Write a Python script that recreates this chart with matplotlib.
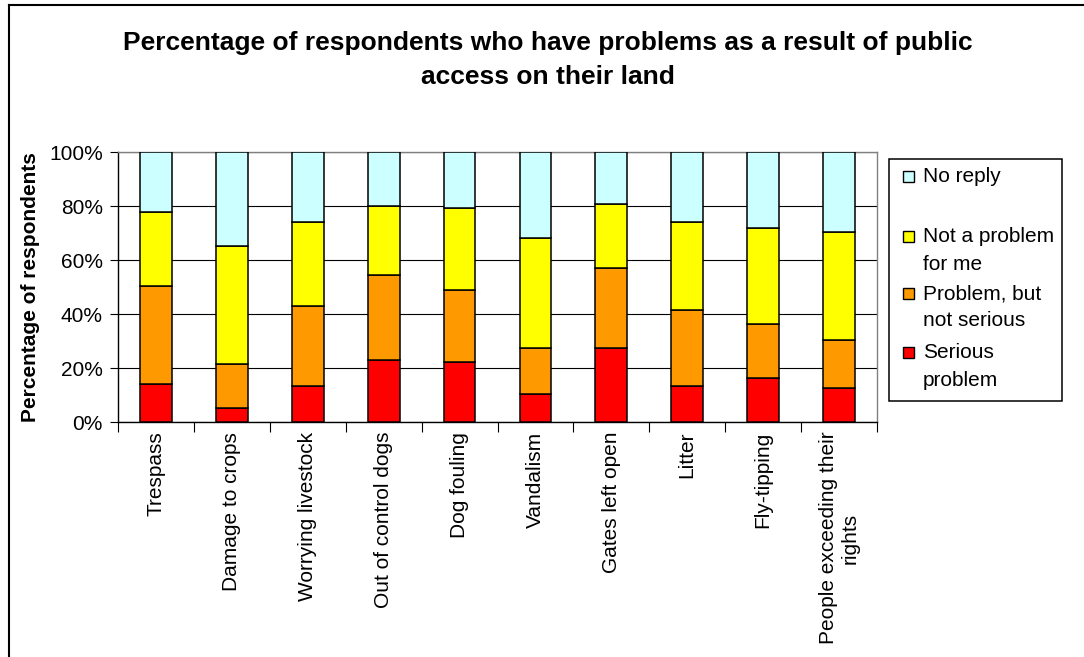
import matplotlib
matplotlib.use("Agg")
import matplotlib.pyplot as plt
from matplotlib.patches import Rectangle
from matplotlib.lines import Line2D
import numpy as np

plt.rcParams['font.family'] = ['Liberation Sans', 'DejaVu Sans']

categories = ['Trespass', 'Damage to crops', 'Worrying livestock', 'Out of control dogs',
              'Dog fouling', 'Vandalism', 'Gates left open', 'Litter', 'Fly-tipping',
              'People exceeding their\nrights']
serious = [14.1, 5.2, 13.3, 23.1, 22.1, 10.4, 27.4, 13.2, 16.3, 12.6]
not_serious = [36.4, 16.3, 29.5, 31.2, 26.9, 17.0, 29.6, 28.2, 20.0, 17.8]
not_problem = [27.3, 43.7, 31.3, 25.6, 30.3, 40.7, 23.7, 32.7, 35.6, 40.0]
no_reply = [22.2, 34.8, 25.9, 20.1, 20.7, 31.9, 19.3, 25.9, 28.1, 29.6]

series = [serious, not_serious, not_problem, no_reply]
labels = ['Serious\nproblem', 'Problem, but\nnot serious', 'Not a problem\nfor me', 'No reply']
colors = ['#FF0000', '#FF9900', '#FFFF00', '#CCFFFF']

W, H = 1084, 657
fig = plt.figure(figsize=(W / 100, H / 100), dpi=100)
ax = fig.add_axes([118 / W, 1 - 422 / H, 759 / W, 270 / H])

x = np.arange(len(categories))
bottom = np.zeros(len(categories))
for vals, col in zip(series, colors):
    ax.bar(x, vals, 0.42, bottom=bottom, color=col, edgecolor='black', linewidth=1.1, zorder=3)
    bottom += np.array(vals)

ax.set_xlim(-0.5, len(categories) - 0.5)
ax.set_ylim(0, 100)
ax.set_yticks(range(0, 101, 20))
ax.set_yticklabels([f'{v}%' for v in range(0, 101, 20)], fontsize=15)
ax.yaxis.grid(True, color='black', linewidth=0.8, zorder=0)
ax.tick_params(axis='y', length=6, width=0.8, direction='out', pad=5)

ax.set_xticks(x)
ax.set_xticklabels(categories, rotation=90, fontsize=15, ha='center', va='top', multialignment='center')
ax.tick_params(axis='x', which='major', length=0, pad=7)
ax.set_xticks(np.arange(-0.5, len(categories)), minor=True)
ax.tick_params(axis='x', which='minor', length=7, width=0.8, direction='out')

for s in ['top', 'right']:
    ax.spines[s].set_color('#808080')
for s in ['left', 'bottom']:
    ax.spines[s].set_color('black')
for s in ax.spines.values():
    s.set_linewidth(1.0)

ax.set_ylabel('Percentage of respondents', fontsize=15, fontweight='bold')
ax.yaxis.set_label_coords(-(118 - 40) / 759, 0.5)

fig.text(548 / W, 1 - 60 / H, 'Percentage of respondents who have problems as a result of public\naccess on their land',
         ha='center', va='center', fontsize=19, fontweight='bold', linespacing=1.5)

# legend box drawn by hand to follow the original spacing
def fx(px):
    return px / W

def fy(py):
    return 1 - py / H

fig.add_artist(Rectangle((fx(889), fy(401)), fx(1062) - fx(889), fy(159) - fy(401),
                         transform=fig.transFigure, facecolor='white', edgecolor='black', linewidth=1.1))
leg_y = [177, 237, 294, 353]
leg_order = [3, 2, 1, 0]
for yy, i in zip(leg_y, leg_order):
    fig.add_artist(Rectangle((fx(903), fy(yy + 5)), 11 / W, 11 / H, transform=fig.transFigure,
                             facecolor=colors[i], edgecolor='black', linewidth=1.0))
    for k, line in enumerate(labels[i].split('\n')):
        fig.text(fx(923), fy(yy + 27 * k), line, ha='left', va='center', fontsize=15)

# outer frame (only left and top visible)
fig.add_artist(Line2D([fx(9), fx(9)], [0, fy(5)], transform=fig.transFigure, color='black', linewidth=1.5))
fig.add_artist(Line2D([fx(9), 1], [fy(5), fy(5)], transform=fig.transFigure, color='black', linewidth=1.5))

fig.savefig('out.png', dpi=100)
